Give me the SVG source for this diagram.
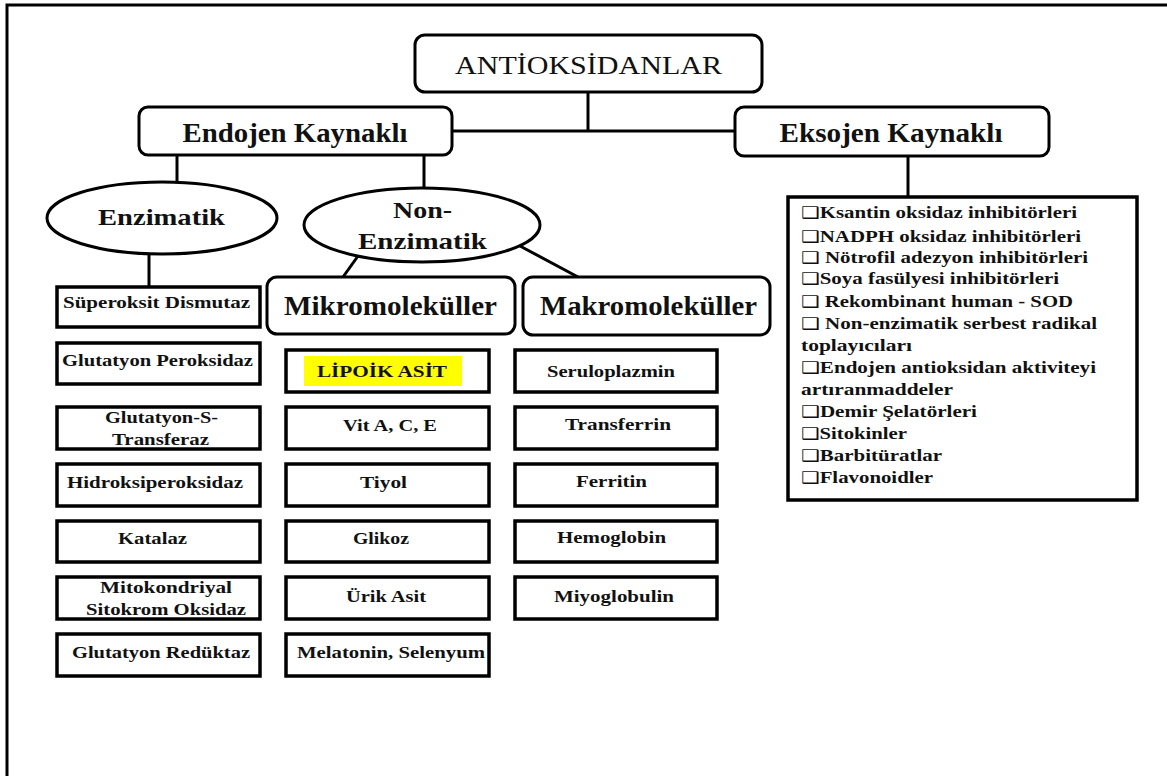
<svg xmlns="http://www.w3.org/2000/svg" width="1167" height="776" viewBox="0 0 1167 776">
<style>
.rb{fill:#fff;stroke:#000;stroke-width:3}
.bx{fill:#fff;stroke:#000;stroke-width:3.5}
.el{fill:#fff;stroke:#000;stroke-width:3}
.cn{stroke:#000;stroke-width:3;fill:none}
text{font-family:"Liberation Serif","Times New Roman",serif;fill:#111;text-anchor:middle}
.h1{font-size:25px}
.h2{font-size:27px;font-weight:bold}
.h3{font-size:24px;font-weight:bold}
.t{font-size:16px;font-weight:bold}
.l{font-size:16px;font-weight:bold;text-anchor:start}
.ck{font-family:"DejaVu Sans",sans-serif;font-weight:normal}
</style>
<rect width="1167" height="776" fill="#fff"/>
<g id="frame"><path d="M7 776 V5 H1167" class="cn" stroke-width="3.5"/></g>
<g id="connectors">
<path class="cn" d="M588 92 V131 M452 131 H735"/>
<path class="cn" d="M177 155 V182"/>
<path class="cn" d="M424 155 V189"/>
<path class="cn" d="M908 156 V197"/>
<path class="cn" d="M149 253 V287"/>
<path class="cn" d="M358 256 L343 277"/>
<path class="cn" d="M520 246 L578 277"/>
</g>
<g id="n-antioksidanlar"><rect class="rb" x="415" y="35" width="347" height="57" rx="10"/><text class="h1" x="588.5" y="74" textLength="267" lengthAdjust="spacingAndGlyphs">ANTİOKSİDANLAR</text></g>
<g id="n-endojen"><rect class="rb" x="139" y="107" width="313" height="48" rx="9"/><text class="h2" x="295" y="142" textLength="225" lengthAdjust="spacingAndGlyphs">Endojen Kaynaklı</text></g>
<g id="n-eksojen"><rect class="rb" x="735" y="107" width="314" height="49" rx="9"/><text class="h2" x="891" y="142" textLength="223" lengthAdjust="spacingAndGlyphs">Eksojen Kaynaklı</text></g>
<g id="n-enzimatik"><ellipse class="el" cx="162" cy="218" rx="115" ry="36"/><text class="h3" x="161.5" y="225" textLength="127" lengthAdjust="spacingAndGlyphs">Enzimatik</text></g>
<g id="n-nonenzimatik"><ellipse class="el" cx="422" cy="225" rx="118" ry="37"/><text class="h3" x="422.5" y="218" textLength="59" lengthAdjust="spacingAndGlyphs">Non-</text><text class="h3" x="422.5" y="249" textLength="129" lengthAdjust="spacingAndGlyphs">Enzimatik</text></g>
<g id="n-mikro"><rect class="rb" x="267" y="277" width="248" height="57" rx="10"/><text class="h2" x="390.5" y="315" textLength="213" lengthAdjust="spacingAndGlyphs">Mikromoleküller</text></g>
<g id="n-makro"><rect class="rb" x="523" y="277" width="247" height="58" rx="10"/><text class="h2" x="648.5" y="315" textLength="217" lengthAdjust="spacingAndGlyphs">Makromoleküller</text></g>
<g id="n-sod"><rect class="bx" x="57" y="287" width="203" height="40"/><text class="t" x="156.5" y="308" textLength="187" lengthAdjust="spacingAndGlyphs">Süperoksit Dismutaz</text></g>
<g id="n-gpx"><rect class="bx" x="57" y="343" width="203" height="41"/><text class="t" x="157.5" y="366" textLength="191" lengthAdjust="spacingAndGlyphs">Glutatyon Peroksidaz</text></g>
<g id="n-gst"><rect class="bx" x="57" y="407" width="203" height="42"/><text class="t" x="161.5" y="423" textLength="113" lengthAdjust="spacingAndGlyphs">Glutatyon-S-</text><text class="t" x="160.5" y="445" textLength="97" lengthAdjust="spacingAndGlyphs">Transferaz</text></g>
<g id="n-hid"><rect class="bx" x="57" y="464" width="203" height="42"/><text class="t" x="155" y="488" textLength="176" lengthAdjust="spacingAndGlyphs">Hidroksiperoksidaz</text></g>
<g id="n-kat"><rect class="bx" x="57" y="521" width="203" height="41"/><text class="t" x="152.5" y="544" textLength="69" lengthAdjust="spacingAndGlyphs">Katalaz</text></g>
<g id="n-mito"><rect class="bx" x="57" y="577" width="203" height="42"/><text class="t" x="166" y="593" textLength="132" lengthAdjust="spacingAndGlyphs">Mitokondriyal</text><text class="t" x="166" y="615" textLength="160" lengthAdjust="spacingAndGlyphs">Sitokrom Oksidaz</text></g>
<g id="n-gr"><rect class="bx" x="57" y="634" width="203" height="42"/><text class="t" x="161" y="658" textLength="178" lengthAdjust="spacingAndGlyphs">Glutatyon Redüktaz</text></g>
<g id="n-lipoik"><rect class="bx" x="286" y="350" width="203" height="42"/><rect x="304" y="356" width="158" height="30" fill="#ffff00"/><text class="t" x="382" y="377" textLength="130" lengthAdjust="spacingAndGlyphs">LİPOİK  ASİT</text></g>
<g id="n-vit"><rect class="bx" x="286" y="407" width="203" height="42"/><text class="t" x="390" y="431" textLength="94" lengthAdjust="spacingAndGlyphs">Vit A, C, E</text></g>
<g id="n-tiyol"><rect class="bx" x="286" y="464" width="203" height="42"/><text class="t" x="383.5" y="488" textLength="47" lengthAdjust="spacingAndGlyphs">Tiyol</text></g>
<g id="n-glikoz"><rect class="bx" x="286" y="521" width="203" height="41"/><text class="t" x="381" y="544" textLength="56" lengthAdjust="spacingAndGlyphs">Glikoz</text></g>
<g id="n-urik"><rect class="bx" x="286" y="577" width="203" height="42"/><text class="t" x="386" y="602" textLength="80" lengthAdjust="spacingAndGlyphs">Ürik Asit</text></g>
<g id="n-mel"><rect class="bx" x="286" y="634" width="203" height="42"/><text class="t" x="391" y="658" textLength="188" lengthAdjust="spacingAndGlyphs">Melatonin, Selenyum</text></g>
<g id="n-ser"><rect class="bx" x="515" y="350" width="202" height="42"/><text class="t" x="611" y="377" textLength="128" lengthAdjust="spacingAndGlyphs">Seruloplazmin</text></g>
<g id="n-trf"><rect class="bx" x="515" y="407" width="202" height="42"/><text class="t" x="618" y="430" textLength="106" lengthAdjust="spacingAndGlyphs">Transferrin</text></g>
<g id="n-fer"><rect class="bx" x="515" y="464" width="202" height="42"/><text class="t" x="611.5" y="487" textLength="71" lengthAdjust="spacingAndGlyphs">Ferritin</text></g>
<g id="n-hem"><rect class="bx" x="515" y="521" width="202" height="41"/><text class="t" x="611.5" y="543" textLength="109" lengthAdjust="spacingAndGlyphs">Hemoglobin</text></g>
<g id="n-miy"><rect class="bx" x="515" y="577" width="202" height="42"/><text class="t" x="614" y="602" textLength="120" lengthAdjust="spacingAndGlyphs">Miyoglobulin</text></g>
<g id="n-list"><rect class="bx" x="788" y="197" width="349" height="303"/>
<text class="l" x="801" y="218" textLength="276" lengthAdjust="spacingAndGlyphs"><tspan class="ck">❑</tspan>Ksantin oksidaz inhibitörleri</text>
<text class="l" x="801" y="242" textLength="280" lengthAdjust="spacingAndGlyphs"><tspan class="ck">❑</tspan>NADPH oksidaz inhibitörleri</text>
<text class="l" x="801" y="263" textLength="287" lengthAdjust="spacingAndGlyphs"><tspan class="ck">❑</tspan> Nötrofil adezyon inhibitörleri</text>
<text class="l" x="801" y="284" textLength="258" lengthAdjust="spacingAndGlyphs"><tspan class="ck">❑</tspan>Soya fasülyesi inhibitörleri</text>
<text class="l" x="801" y="307" textLength="272" lengthAdjust="spacingAndGlyphs"><tspan class="ck">❑</tspan> Rekombinant human - SOD</text>
<text class="l" x="801" y="329" textLength="296" lengthAdjust="spacingAndGlyphs"><tspan class="ck">❑</tspan> Non-enzimatik serbest radikal</text>
<text class="l" x="801" y="351" textLength="111" lengthAdjust="spacingAndGlyphs">toplayıcıları</text>
<text class="l" x="801" y="373" textLength="295" lengthAdjust="spacingAndGlyphs"><tspan class="ck">❑</tspan>Endojen antioksidan aktiviteyi</text>
<text class="l" x="801" y="395" textLength="152" lengthAdjust="spacingAndGlyphs">artıranmaddeler</text>
<text class="l" x="801" y="417" textLength="176" lengthAdjust="spacingAndGlyphs"><tspan class="ck">❑</tspan>Demir Şelatörleri</text>
<text class="l" x="801" y="439" textLength="106" lengthAdjust="spacingAndGlyphs"><tspan class="ck">❑</tspan>Sitokinler</text>
<text class="l" x="801" y="461" textLength="141" lengthAdjust="spacingAndGlyphs"><tspan class="ck">❑</tspan>Barbitüratlar</text>
<text class="l" x="801" y="483" textLength="132" lengthAdjust="spacingAndGlyphs"><tspan class="ck">❑</tspan>Flavonoidler</text>
</g>
</svg>
